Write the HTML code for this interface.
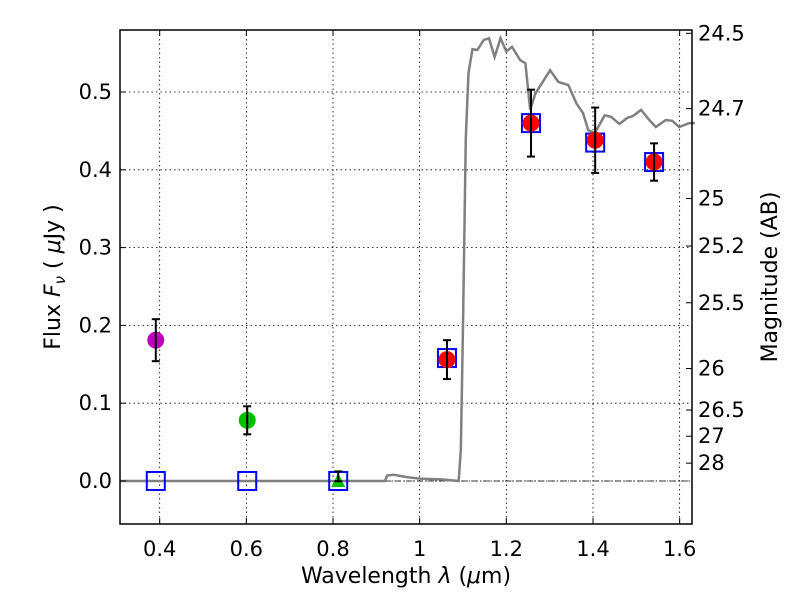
<!DOCTYPE html>
<html><head><meta charset="utf-8"><style>
html,body{margin:0;padding:0;background:#fff;}
svg text{font-family:"DejaVu Sans","Liberation Sans",sans-serif;fill:#000;}
</style></head><body>
<svg id="chart" width="800" height="600" viewBox="0 0 800 600" xmlns="http://www.w3.org/2000/svg">
<rect x="0" y="0" width="800" height="600" fill="#fff"/>
<g id="grid"></g>
<g id="marks"></g>
<rect x="120" y="30" width="572" height="494" fill="none" stroke="#000" stroke-width="1.5"/>
<g id="axes"></g>
<text x="406" y="583" font-size="22" text-anchor="middle">Wavelength  <tspan font-style="italic">λ</tspan> (<tspan font-style="italic">μ</tspan>m)</text>
<text transform="translate(60,277) rotate(-90)" font-size="22" text-anchor="middle">Flux  <tspan font-style="italic">F</tspan><tspan font-style="italic" font-size="15" dy="5">ν</tspan><tspan dy="-5">  ( </tspan><tspan font-style="italic">μ</tspan>Jy )</text>
<text transform="translate(777,277) rotate(-90)" font-size="22" text-anchor="middle">Magnitude (AB)</text>
</svg>
<script>
const xTicks=[0.4,0.6,0.8,1.0,1.2,1.4,1.6];
const xTickLabels=["0.4","0.6","0.8","1","1.2","1.4","1.6"];
const yTicks=[0,0.1,0.2,0.3,0.4,0.5];
const yTickLabels=["0.0","0.1","0.2","0.3","0.4","0.5"];
const magTicks=[24.5,24.7,25,25.2,25.5,26,26.5,27,28];
const magTickLabels=["24.5","24.7","25","25.2","25.5","26","26.5","27","28"];
const specX=[0.31,0.6,0.92,0.925,0.94,0.97,1.0,1.05,1.09,1.095,1.1,1.1064,1.1126,1.1218,1.133,1.148,1.16,1.173,1.1866,1.2,1.213,1.232,1.244,1.255,1.267,1.301,1.32,1.343,1.362,1.377,1.389,1.404,1.427,1.442,1.461,1.48,1.492,1.511,1.53,1.545,1.568,1.583,1.599,1.622,1.635];
const specY=[0,0,0,0.007,0.008,0.005,0.003,0.002,0.0,0.04,0.2,0.44,0.524,0.555,0.554,0.567,0.569,0.545,0.569,0.552,0.558,0.541,0.537,0.477,0.498,0.528,0.513,0.509,0.485,0.473,0.451,0.447,0.470,0.468,0.459,0.467,0.469,0.477,0.464,0.455,0.464,0.463,0.455,0.460,0.460];
const sqX=[0.391,0.602,0.812,1.063,1.257,1.405,1.541];
const sqY=[0,0,0,0.158,0.46,0.435,0.41];
const redX=[1.063,1.257,1.405,1.541];
const redY=[0.156,0.46,0.438,0.41];
const redErr=[0.025,0.043,0.042,0.024];
const magX=[0.391];const magY=[0.181];const magErr=[0.027];
const grnX=[0.602];const grnY=[0.078];const grnErr=[0.018];
const triX=[0.812];const triY=[0.0];const triErr=[0.009];

const NS="http://www.w3.org/2000/svg";
const L=120,R=692,T=30,B=524,x0=0.3084,x1=1.6285,y0=-0.0553,y1=0.5797;
function sx(v){return L+(v-x0)/(x1-x0)*(R-L);}
function sy(v){return B-(v-y0)/(y1-y0)*(B-T);}
function mk(tag,attrs,parent){const e=document.createElementNS(NS,tag);for(const k in attrs)e.setAttribute(k,attrs[k]);parent.appendChild(e);return e;}
const grid=document.getElementById('grid'),marks=document.getElementById('marks'),axes=document.getElementById('axes');

xTicks.forEach((t,i)=>{const X=sx(t);
 const g=mk('line',{x1:X,x2:X,y1:T,y2:B,stroke:'#000','stroke-width':0.8,'stroke-dasharray':'1.5,3'},grid);
 
 const a=mk('line',{x1:X,x2:X,y1:B,y2:B-6,stroke:'#000'},axes);
 const b=mk('line',{x1:X,x2:X,y1:T,y2:T+6,stroke:'#000'},axes);
 const tx=mk('text',{x:X,y:B+32,'font-size':21,'text-anchor':'middle'},axes);tx.textContent=xTickLabels[i];
 });
yTicks.forEach((t,i)=>{const Y=sy(t);
 const g=mk('line',{x1:L,x2:R,y1:Y,y2:Y,stroke:'#000','stroke-width':0.8,'stroke-dasharray':'1.5,3'},grid);
 
 const a=mk('line',{x1:L,x2:L+6,y1:Y,y2:Y,stroke:'#000'},axes);
 const tx=mk('text',{x:L-8,y:Y+7,'font-size':21,'text-anchor':'end'},axes);tx.textContent=yTickLabels[i];
 });
magTicks.forEach((m,i)=>{const Y=sy(Math.pow(10,(23.9-m)/2.5));
 const a=mk('line',{x1:R,x2:R-6,y1:Y,y2:Y,stroke:'#000'},axes);
 const tx=mk('text',{x:R+6,y:Y+7,'font-size':21,'text-anchor':'start'},axes);tx.textContent=magTickLabels[i];
 });

const zl=mk('line',{x1:L,x2:R,y1:sy(0),y2:sy(0),stroke:'#000','stroke-width':0.8,'stroke-dasharray':'6,2,1,2'},marks);

const sp=mk('polyline',{points:specX.map((v,i)=>sx(v)+','+sy(specY[i])).join(' '),fill:'none',stroke:'#808080','stroke-width':2.5},marks);


function err(X,Y,E,name){const g=mk('g',{stroke:'#000','stroke-width':2},marks);
 
 const a=sx(X),t=sy(Y+E),b=sy(Y-E);
 mk('line',{x1:a,x2:a,y1:t,y2:b},g);mk('line',{x1:a-4,x2:a+4,y1:t,y2:t},g);mk('line',{x1:a-4,x2:a+4,y1:b,y2:b},g);}
sqX.forEach((v,i)=>{const r=mk('rect',{x:sx(v)-9,y:sy(sqY[i])-9,width:18,height:18,fill:'none',stroke:'#0000ff','stroke-width':2},marks);
 });
magX.forEach((v,i)=>{const c=mk('circle',{cx:sx(v),cy:sy(magY[i]),r:8.5,fill:'#bf00bf'},marks);
 err(v,magY[i],magErr[i],'magenta-errorbar');});
grnX.forEach((v,i)=>{const c=mk('circle',{cx:sx(v),cy:sy(grnY[i]),r:8.5,fill:'#00bf00'},marks);
 err(v,grnY[i],grnErr[i],'green-errorbar');});
triX.forEach((v,i)=>{const X=sx(v),Y=sy(triY[i]);
 const p=mk('polygon',{points:(X)+','+(Y-8)+' '+(X-7)+','+(Y+6)+' '+(X+7)+','+(Y+6),fill:'#00bf00'},marks);
 err(v,triY[i]+0.006,triErr[i]*0.7,'triangle-errorbar');});
redX.forEach((v,i)=>{const c=mk('circle',{cx:sx(v),cy:sy(redY[i]),r:8.5,fill:'#ff0000'},marks);
 err(v,redY[i],redErr[i],'red-errorbar');});
</script>
</body></html>
